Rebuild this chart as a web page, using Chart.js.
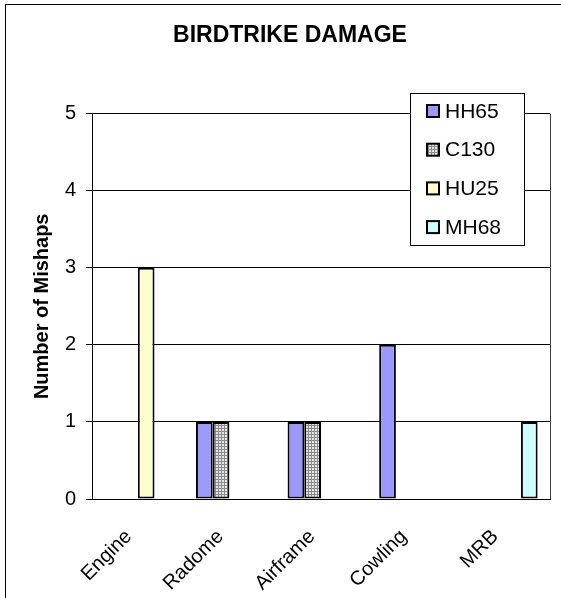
<!DOCTYPE html>
<html lang="en">
<head>
<meta charset="UTF-8" />
<title>Birdtrike Damage</title>
<script src="https://cdn.jsdelivr.net/npm/chart.js@4"></script>
<style>
  html, body { margin: 0; padding: 0; background: #fff; overflow: hidden; }
  .frame { position: absolute; left: 5px; top: 4px; width: 620px; height: 660px; border: 1px solid #000; }
  #chart { position: absolute; left: 0; top: 0; }
</style>
</head>
<body>
<div class="frame"></div>
<canvas id="chart" width="561" height="598"></canvas>
<script>
// categories + series
const parts = ["Engine", "Radome", "Airframe", "Cowling", "MRB"];
const hh65 = [0, 1, 1, 2, 0];
const c130 = [0, 1, 1, 0, 0];
const hu25 = [3, 0, 0, 0, 0];
const mh68 = [0, 0, 0, 0, 1];
const yMin = 0, yMax = 5, yStep = 1;

const FONT = "'Liberation Sans', Arial, sans-serif";

// dotted grey fill used for the C130 bars
function dotPattern() {
  const c = document.createElement("canvas");
  c.width = 3; c.height = 3;
  const g = c.getContext("2d");
  g.fillStyle = "#e6e6e6";
  g.fillRect(0, 0, 3, 3);
  g.fillStyle = "#8a8a8a";
  g.fillRect(2, 0, 1, 3);
  g.fillRect(0, 2, 3, 1);
  return g.createPattern(c, "repeat");
}

const noZero = (arr) => arr.map((v) => (v === 0 ? null : v));

// right edge of the plot box
const plotBorder = {
  id: "plotBorder",
  afterDatasetsDraw(chart) {
    const { ctx, chartArea: a } = chart;
    ctx.save();
    ctx.strokeStyle = "#404040";
    ctx.lineWidth = 1;
    ctx.beginPath();
    ctx.moveTo(Math.round(a.right) + 0.5, a.top);
    ctx.lineTo(Math.round(a.right) + 0.5, a.bottom);
    ctx.stroke();
    ctx.restore();
  },
};

// boxed legend sitting inside the plot, like the excel one
const boxLegend = {
  id: "boxLegend",
  afterDraw(chart) {
    const ctx = chart.ctx;
    const x = 410, y = 93, w = 114, h = 152;
    ctx.save();
    ctx.fillStyle = "#fff";
    ctx.fillRect(x, y, w, h);
    ctx.strokeStyle = "#000";
    ctx.lineWidth = 1;
    ctx.strokeRect(x + 0.5, y + 0.5, w, h);
    ctx.font = "21px " + FONT;
    ctx.textBaseline = "middle";
    chart.data.datasets.forEach((ds, i) => {
      const cy = y + 18 + i * 38.7;
      ctx.fillStyle = ds.backgroundColor;
      ctx.fillRect(427, cy - 6, 12, 12);
      ctx.strokeStyle = "#000";
      ctx.lineWidth = 2;
      ctx.strokeRect(427, cy - 6, 12, 12);
      ctx.fillStyle = "#000";
      ctx.fillText(ds.label, 445, cy + 1);
    });
    ctx.restore();
  },
};

const ctx = document.getElementById("chart").getContext("2d");
new Chart(ctx, {
  type: "bar",
  data: {
    labels: parts,
    datasets: [
      { label: "HH65", data: noZero(hh65), backgroundColor: "#9999ff" },
      { label: "C130", data: noZero(c130), backgroundColor: dotPattern() },
      { label: "HU25", data: noZero(hu25), backgroundColor: "#ffffcc" },
      { label: "MH68", data: noZero(mh68), backgroundColor: "#ccffff" },
    ],
  },
  options: {
    responsive: false,
    animation: false,
    layout: { padding: { left: 30, right: 11, top: 0, bottom: 0 } },
    datasets: {
      bar: {
        borderColor: "#000",
        borderWidth: 2,
        borderSkipped: false,
        categoryPercentage: 0.73,
        barPercentage: 1.0,
      },
    },
    plugins: {
      legend: { display: false },
      tooltip: { enabled: false },
      title: {
        display: true,
        text: "BIRDTRIKE DAMAGE",
        color: "#000",
        font: { family: FONT, size: 23, weight: "bold" },
        padding: { top: 22, bottom: 64 },
      },
    },
    scales: {
      x: {
        grid: { display: false, drawTicks: false },
        border: { display: true, color: "#000", width: 1 },
        ticks: {
          color: "#000",
          font: { family: FONT, size: 20 },
          maxRotation: 45,
          minRotation: 45,
          padding: 26,
          labelOffset: -9,
        },
        afterFit(scale) { scale.height = 99; },
      },
      y: {
        min: yMin,
        max: yMax,
        grid: { color: "#000", tickLength: 6, tickColor: "#000" },
        border: { color: "#000", width: 1 },
        ticks: {
          stepSize: yStep,
          color: "#000",
          font: { family: FONT, size: 20 },
          padding: 10,
        },
        title: {
          display: true,
          text: "Number of Mishaps",
          color: "#000",
          font: { family: FONT, size: 20, weight: "bold" },
          padding: 0,
        },
        afterFit(scale) { scale.width = 62; },
      },
    },
  },
  plugins: [plotBorder, boxLegend],
});
</script>
</body>
</html>
